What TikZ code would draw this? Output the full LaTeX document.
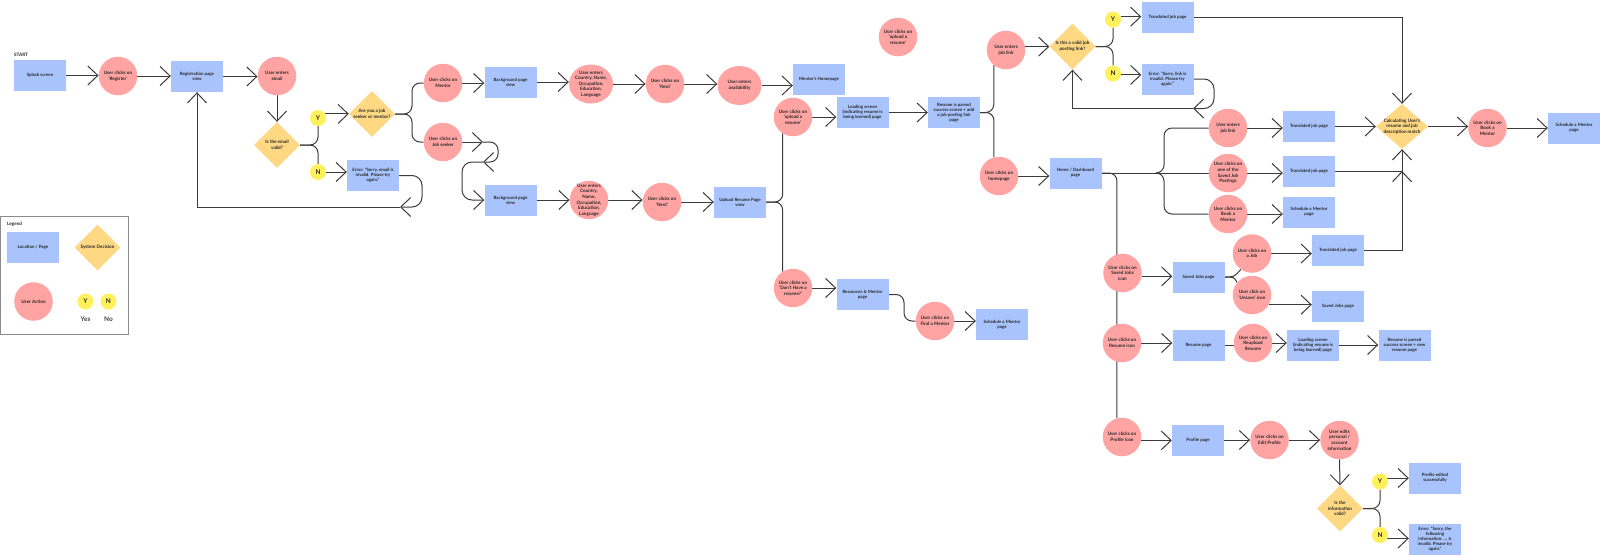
\documentclass[tikz,border=0pt]{standalone}
\usepackage{fontspec}
\setmainfont{Lato}
\usetikzlibrary{arrows.meta,shapes.geometric,backgrounds}
\definecolor{pagec}{HTML}{A9C4FD}
\definecolor{actc}{HTML}{FFA3A3}
\definecolor{decc}{HTML}{FFD883}
\definecolor{ync}{HTML}{FFF05C}
\definecolor{linec}{HTML}{3B3B3B}
\definecolor{framec}{HTML}{8C8C8C}
\newcommand{\fpg}{\fontsize{4.4}{5.1}\selectfont\bfseries}
\newcommand{\fact}{\fontsize{4.6}{5.6}\selectfont\bfseries}
\newcommand{\fyn}{\fontsize{6.5}{7}\selectfont\bfseries}
\begin{document}
\begin{tikzpicture}[x=1pt,y=-1pt,
  pg/.style={rectangle, fill=pagec, minimum width=52pt, minimum height=31pt, inner sep=0pt, align=center, font=\fpg, text=black!85},
  act/.style={circle, fill=actc, minimum size=38.5pt, inner sep=-8pt, align=center, font=\fact, text=black!85},
  ell/.style={ellipse, fill=actc, minimum width=44pt, minimum height=39pt, inner sep=-8pt, align=center, font=\fact, text=black!85},
  dec/.style={diamond, fill=decc, minimum width=46pt, minimum height=46pt, inner sep=-8pt, align=center, font=\fact, text=black!85},
  yn/.style={circle, fill=ync, minimum size=16pt, inner sep=0pt, font=\fyn, text=black!85},
  lbl/.style={font=\fact, text=black!85, inner sep=0pt},
  arr/.style={draw=linec, line width=1pt, -{Straight Barb[length=10pt,width=19pt]}},
  ln/.style={draw=linec, line width=1pt},
  rc/.style={rounded corners=8pt}]
\useasboundingbox (0,0) rectangle (1600,555);

% ---------- registration ----------
\node[lbl, anchor=west] (start) at (14,55) {START};
\node[pg] (splash) at (40,75.5) {Splash screen};
\node[act] (reg) at (118,76) {User clicks on\\‘Register’};
\node[pg] (regp) at (197,76.5) {Registration page\\view};
\node[act] (email) at (277,76) {User enters\\email};
\node[dec] (ev) at (277,145) {Is the email\\valid?};
\node[yn] (y1) at (318,118) {Y};
\node[yn] (n1) at (318,172) {N};
\node[dec] (jsm) at (372,114) {Are you a job\\seeker or mentor?};
\node[pg] (ee) at (373,175.5) {Error: “Sorry, email is\\invalid. Please try\\again.”};
\node[act] (cm) at (443,83) {User clicks on\\Mentor};
\node[act] (cj) at (443,142) {User clicks on\\Job seeker};
\node[pg] (bg1) at (510.5,82) {Background page\\view};
\node[pg] (bg2) at (510.5,200) {Background page\\view};
\node[ell] (co1) at (591,84) {User enters\\Country, Name,\\Occupation,\\Education,\\Language};
\node[act] (co2) at (589,200) {User enters\\Country,\\Name,\\Occupation,\\Education,\\Language};
\node[act] (nx1) at (665,84) {User clicks on\\‘Next’};
\node[act] (nx2) at (662,202) {User clicks on\\‘Next’};
\node[ell] (av) at (739.5,85.5) {User enters\\availability};
\node[pg] (mh) at (819,79) {Mentor’s Homepage};
\node[pg] (ur) at (740,202) {Upload Resume Page\\view};
\node[act] (uc) at (793,117) {User clicks on\\‘upload a\\resume’};
\node[act] (uf) at (898,37) {User clicks on\\‘upload a\\resume’};
\node[act] (dh) at (793,288) {User clicks on\\‘Don’t Have a\\resume?’};
\node[pg] (ld1) at (862.5,112.5) {Loading screen\\(indicating resume is\\being learned) page};
\node[pg] (ps1) at (954,112.5) {Resume is parsed\\success screen + add\\a job posting link\\page};
\node[pg] (rm) at (862.5,294.5) {Resources \& Mentor\\page};
\node[act] (fm) at (935,321) {User clicks on\\Find a Mentor};
\node[pg] (sm1) at (1002,324.5) {Schedule a Mentor\\page};
\node[act] (jl1) at (1006,50) {User enters\\job link};
\node[act] (hp) at (999,176) {User clicks on\\homepage};

% ---------- job link ----------
\node[dec] (vj) at (1072.5,46.5) {Is this a valid job\\posting link?};
\node[yn] (y2) at (1113,19.5) {Y};
\node[yn] (n2) at (1113,73.5) {N};
\node[pg] (tj1) at (1167.5,17) {Translated job page};
\node[pg] (el) at (1167.5,79) {Error: “Sorry, link is\\invalid. Please try\\again.”};

% ---------- dashboard ----------
\node[pg] (home) at (1075.5,173) {Home / Dashboard\\page};
\node[act] (jl2) at (1228,128) {User enters\\job link};
\node[act] (sp) at (1228,173) {User clicks on\\one of the\\Saved Job\\Postings};
\node[act] (bm1) at (1228,214) {User clicks on\\Book a\\Mentor};
\node[pg] (tj2) at (1309,126.5) {Translated job page};
\node[pg] (tj3) at (1309,171) {Translated job page};
\node[pg] (sm2) at (1309,212) {Schedule a Mentor\\page};
\node[dec, minimum width=52pt, minimum height=45pt] (calc) at (1402,126.5) {Calculating User’s\\resume and job\\description match};
\node[act] (bm2) at (1487.5,128) {User clicks on\\Book a\\Mentor};
\node[pg] (sm3) at (1574,128) {Schedule a Mentor\\page};
\node[act] (si) at (1122.5,273) {User clicks on\\Saved Jobs\\icon};
\node[pg] (sjp) at (1198.5,277) {Saved Jobs page};
\node[act] (aj) at (1252,253.5) {User clicks on\\a Job};
\node[act] (us) at (1252,295) {User click on\\‘Unsave’ icon};
\node[pg] (tj4) at (1338,250) {Translated job page};
\node[pg] (sj2) at (1338,306) {Saved Jobs page};
\node[act] (ri) at (1122,343) {User clicks on\\Resume icon};
\node[pg] (rp) at (1198.5,345.5) {Resume page};
\node[act] (ru) at (1253,343) {User clicks on\\Reupload\\Resume};
\node[pg] (ld2) at (1313,345) {Loading screen\\(indicating resume is\\being learned) page};
\node[pg] (ps2) at (1404.5,345) {Resume is parsed\\success screen + new\\resume page};
\node[act] (pi) at (1122,437) {User clicks on\\Profile icon};
\node[pg] (pp) at (1198,440) {Profile page};
\node[act] (ep) at (1269.5,440) {User clicks on\\Edit Profile};
\node[act] (ue) at (1339.5,440) {User edits\\personal /\\account\\information};
\node[dec] (iv) at (1340,508.5) {Is the\\information\\valid?};
\node[yn] (y3) at (1380,481.5) {Y};
\node[yn] (n3) at (1380,535) {N};
\node[pg] (pe) at (1435,478) {Profile edited\\successfully};
\node[pg] (ei) at (1435,539) {Error: “Sorry, the\\following\\information: ... is\\invalid. Please try\\again.”};

% ---------- legend ----------
\node[lbl, anchor=west] (lgt) at (7,224) {Legend};
\node[pg] (lpg) at (33,247) {Location / Page};
\node[dec] (ldec) at (97.5,247.5) {System Decision};
\node[act] (lact) at (33.5,301.5) {User Action};
\node[yn] (ly) at (85.5,301.5) {Y};
\node[yn] (lno) at (108.5,301.5) {N};
\node[font=\fyn, text=black!75] (lyes) at (85.5,319) {Yes};
\node[font=\fyn, text=black!75] (lnot) at (108.5,319) {No};

% ---------- coordinates ----------
\coordinate (elp) at (400,207);
\coordinate (jsa) at (483,142);
\coordinate (jsb) at (483,162);
\coordinate (lkp) at (1193,108.5);
\coordinate (hj) at (1157,173);

\begin{scope}[on background layer]
\fill[white] (0,0) rectangle (1600,555);
\draw[framec, line width=0.8pt] (0.5,216) rectangle (128.3,334);
% registration
\draw[arr] (splash.east) -- (splash.east -| reg.west);
\draw[arr] (reg.east) -- (reg.east -| regp.west);
\draw[arr] (regp.east) -- (regp.east -| email.west);
\draw[arr] (email.south) -- (ev.north);
\draw[ln,rc] (ev.east) -- (y1.south |- ev.east) -- (y1.south);
\draw[ln,rc] (ev.east) -- (n1.north |- ev.east) -- (n1.north);
\draw[arr] (y1.30) -- (y1.30 -| jsm.west);
\draw[arr] (n1.east) -- (n1.east -| ee.west);
\draw[arr,rounded corners=10pt] (ee.east) -- (422,175.5) -- (422,207) -- (elp);
\draw[arr] (elp) -- (regp.south |- elp) -- (regp.south);
\draw[ln,rc] (jsm.east) -- (412,114) -- (412,83) -- (cm.west);
\draw[ln,rc] (jsm.east) -- (412,114) -- (412,142) -- (cj.west);
\draw[arr] (cm.east) -- (cm.east -| bg1.west);
\draw[arr] (cj.east) -- (jsa);
\draw[arr,rounded corners=8pt] (jsa) -- (498,142) -- (498,162) -- (jsb);
\draw[arr,rounded corners=10pt] (jsb) -- (462,162) -- (462,200) -- (bg2.west);
\draw[arr] (bg1.east) -- (bg1.east -| co1.west);
\draw[arr] (co1.east) -- (co1.east -| nx1.west);
\draw[arr] (nx1.east) -- (nx1.east -| av.west);
\draw[arr] (av.east) -- (av.east -| mh.west);
\draw[arr] (bg2.east) -- (bg2.east -| co2.west);
\draw[arr] (co2.east) -- (co2.east -| nx2.west);
\draw[arr] (nx2.east) -- (nx2.east -| ur.west);
\draw[ln,rc] (ur.east) -- (uc.238 |- ur.east) -- (uc.238);
\draw[ln,rc] (ur.east) -- (dh.122 |- ur.east) -- (dh.122);
\draw[arr] (uc.east) -- (uc.east -| ld1.west);
\draw[arr] (ld1.east) -- (ps1.west);
\draw[ln,rc] (ps1.east) -- (jl1.231 |- ps1.east) -- (jl1.231);
\draw[ln,rc] (ps1.east) -- (hp.105 |- ps1.east) -- (hp.105);
\draw[arr] (dh.east) -- (dh.east -| rm.west);
\draw[ln,rc] (rm.east) -- (904,294.5) -- (904,321) -- (fm.west);
\draw[arr] (fm.east) -- (fm.east -| sm1.west);
% job link
\draw[arr] (jl1.10) -- (jl1.10 -| vj.west);
\draw[ln,rc] (vj.east) -- (y2.south |- vj.east) -- (y2.south);
\draw[ln,rc] (vj.east) -- (n2.north |- vj.east) -- (n2.north);
\draw[arr] (y2.20) -- (y2.20 -| tj1.west);
\draw[arr] (n2.-10) -- (n2.-10 -| el.west);
\draw[arr,rounded corners=10pt] (el.east) -- (1214,79) -- (1214,108.5) -- (lkp);
\draw[arr] (lkp) -- (vj.south |- lkp) -- (vj.south);
\draw[arr] (tj1.east) -- (calc.north |- tj1.east) -- (calc.north);
% dashboard
\draw[arr] (hp.east) -- (hp.east -| home.west);
\draw[ln,rc] (home.east) -- (pi.105 |- home.east) -- (pi.105);
\draw[ln] (home.east) -- (sp.west);
\draw[ln,rc] (hj) -- (1164,173) -- (1164,128) -- (jl2.west);
\draw[ln,rc] (hj) -- (1164,173) -- (1164,214) -- (bm1.west);
\draw[arr] (jl2.east) -- (jl2.east -| tj2.west);
\draw[arr] (sp.east) -- (sp.east -| tj3.west);
\draw[arr] (bm1.east) -- (bm1.east -| sm2.west);
\draw[arr] (tj2.east) -- (tj2.east -| calc.west);
\draw[arr] (tj3.east) -- (calc.south |- tj3.east) -- (calc.south);
\draw[arr] (tj4.east) -- (calc.south |- tj4.east) -- (calc.south |- tj3.east);
\draw[arr] (calc.east) -- (calc.east -| bm2.west);
\draw[arr] (bm2.east) -- (bm2.east -| sm3.west);
\draw[arr] (si.-10) -- (si.-10 -| sjp.west);
\draw[ln] (sjp.east) .. controls (1234,277) .. (aj.235);
\draw[ln] (sjp.east) .. controls (1234,277) .. (us.140);
\draw[arr] (aj.east) -- (aj.east -| tj4.west);
\draw[arr] (us.-30) -- (us.-30 -| sj2.west);
\draw[arr] (ri.east) -- (ri.east -| rp.west);
\draw[ln] (rp.east) -- (rp.east -| ru.west);
\draw[arr] (ru.east) -- (ru.east -| ld2.west);
\draw[arr] (ld2.east) -- (ps2.west);
\draw[arr] (pi.-10) -- (pi.-10 -| pp.west);
\draw[arr] (pp.east) -- (pp.east -| ep.west);
\draw[arr] (ep.east) -- (ep.east -| ue.west);
\draw[arr] (ue.south) -- (iv.north);
\draw[ln,rc] (iv.east) -- (y3.south |- iv.east) -- (y3.south);
\draw[ln,rc] (iv.east) -- (n3.north |- iv.east) -- (n3.north);
\draw[arr] (y3.25) -- (y3.25 -| pe.west);
\draw[arr] (n3.-25) -- (n3.-25 -| ei.west);
\end{scope}
\end{tikzpicture}
\end{document}
